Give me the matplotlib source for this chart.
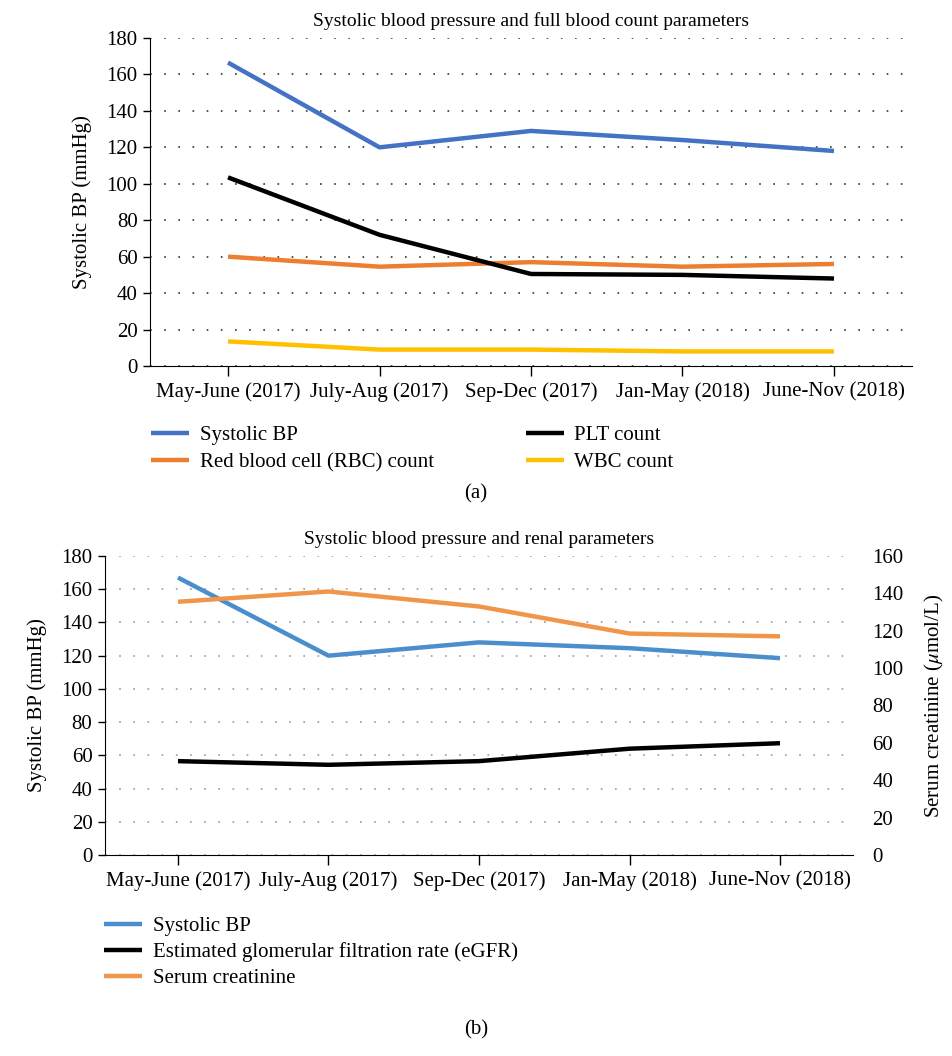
import matplotlib
matplotlib.use("Agg")
import matplotlib.pyplot as plt

plt.rcParams["font.family"] = ["Liberation Serif", "DejaVu Serif"]
plt.rcParams["mathtext.fontset"] = "stix"

periods = ["May-June (2017)", "July-Aug (2017)", "Sep-Dec (2017)", "Jan-May (2018)", "June-Nov (2018)"]

# panel (a)
sbp_a = [166.5, 120, 129, 124, 118]
rbc_a = [60, 54.5, 57, 54.5, 56]
plt_a = [103.5, 72, 50.5, 50, 48]
wbc_a = [13.5, 9, 9, 8, 8]

# panel (b)
sbp_b = [167, 120, 128, 124.5, 118.5]
egfr_b = [56.5, 54.3, 56.5, 64, 67.3]
creat_b = [135.5, 141, 133, 118.5, 117]

x = list(range(len(periods)))
W, H = 952, 1056
fig = plt.figure(figsize=(W / 100, H / 100), dpi=100)


def style_axis(ax, grid_color):
    ax.spines["top"].set_visible(False)
    ax.spines["right"].set_visible(False)
    ax.set_xticks(x)
    ax.set_xticklabels(periods, fontsize=15)
    ax.tick_params(axis="x", length=7, width=1, pad=5)
    ax.tick_params(axis="y", length=5, width=1, labelsize=15, pad=4)
    ax.set_ylim(0, 180)
    ax.set_yticks(range(0, 181, 20))
    ax.yaxis.grid(True, linestyle=(0, (1, 7.5)), color=grid_color, linewidth=1.2)
    ax.set_axisbelow(True)


# ---- (a)
ax1 = fig.add_axes([150 / W, 1 - 366 / H, (912 - 150) / W, (366 - 38) / H])
ax1.plot(x, sbp_a, color="#4472C4", lw=3.2, label="Systolic BP", solid_capstyle="butt")
ax1.plot(x, rbc_a, color="#ED7D31", lw=3.2, label="Red blood cell (RBC) count", solid_capstyle="butt")
ax1.plot(x, plt_a, color="#000000", lw=3.2, label="PLT count", solid_capstyle="butt")
ax1.plot(x, wbc_a, color="#FFC000", lw=3.2, label="WBC count", solid_capstyle="butt")
style_axis(ax1, "#333333")
ax1.set_xlim(-0.515, 4.515)
ax1.set_ylabel("Systolic BP (mmHg)", fontsize=15, labelpad=10)
ax1.set_title("Systolic blood pressure and full blood count parameters", fontsize=14, pad=9)
h, l = ax1.get_legend_handles_labels()
fig.legend(h, l, ncol=2, loc="upper left",
           bbox_to_anchor=(132 / W, 1 - 407 / H), frameon=False, fontsize=15,
           handlelength=1.85, handletextpad=0.5, columnspacing=4.4, labelspacing=0.35)
fig.text(0.5, 1 - 494 / H, "(a)", ha="center", va="center", fontsize=15)

# ---- (b)
ax2 = fig.add_axes([105 / W, 1 - 855 / H, (853 - 105) / W, (855 - 556) / H])
l1, = ax2.plot(x, sbp_b, color="#4A8FCC", lw=3.2, label="Systolic BP", solid_capstyle="butt")
l2, = ax2.plot(x, egfr_b, color="#000000", lw=3.2, label="Estimated glomerular filtration rate (eGFR)", solid_capstyle="butt")
style_axis(ax2, "#999999")
ax2.set_xlim(-0.485, 4.485)
ax2.set_ylabel("Systolic BP (mmHg)", fontsize=15, labelpad=10)
ax2.set_title("Systolic blood pressure and renal parameters", fontsize=14, pad=9)

ax3 = ax2.twinx()
l3, = ax3.plot(x, creat_b, color="#F0964A", lw=3.2, label="Serum creatinine", solid_capstyle="butt")
ax3.set_ylim(0, 160)
ax3.set_yticks(range(0, 161, 20))
ax3.tick_params(axis="y", length=0, labelsize=15, pad=14)
for s in ax3.spines.values():
    s.set_visible(False)
ax3.set_ylabel(r"Serum creatinine ($\mu$mol/L)", fontsize=15, labelpad=14)

fig.legend([l1, l2, l3], [l1.get_label(), l2.get_label(), l3.get_label()], loc="upper left",
           bbox_to_anchor=(85 / W, 1 - 898 / H), frameon=False, fontsize=15,
           handlelength=1.85, handletextpad=0.5, labelspacing=0.3)
fig.text(0.5, 1 - 1030 / H, "(b)", ha="center", va="center", fontsize=15)

fig.savefig("out.png", dpi=100, facecolor="white")
